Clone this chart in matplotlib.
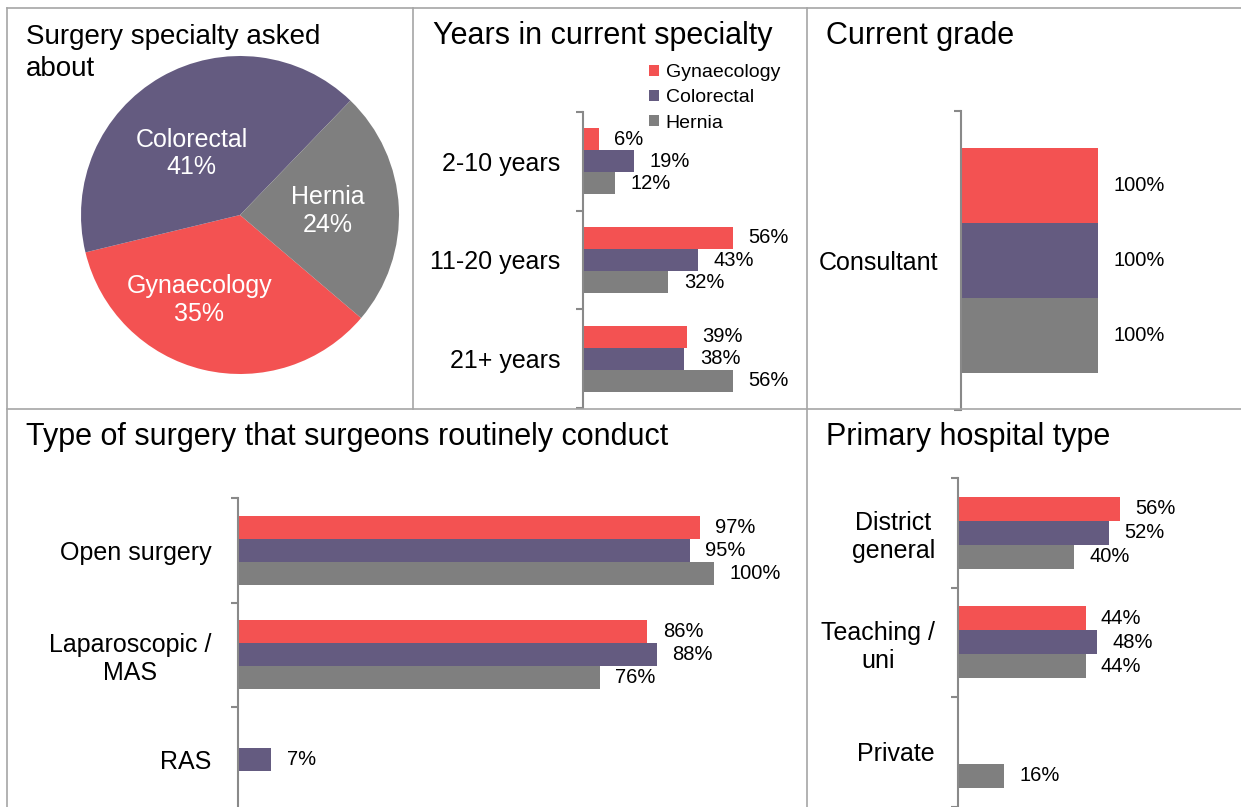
import matplotlib
matplotlib.use("Agg")
import matplotlib.pyplot as plt
from matplotlib.lines import Line2D
import numpy as np

plt.rcParams['font.family'] = ['Liberation Sans', 'DejaVu Sans']

W, H = 1241, 807

series = ["Gynaecology", "Colorectal", "Hernia"]
colors = ["#F35252", "#645B80", "#7F7F7F"]

# pie: share of each specialty
pie_share = [35, 41, 24]

years_cats = ["2-10 years", "11-20 years", "21+ years"]
years_gyn = [6, 56, 39]
years_col = [19, 43, 38]
years_her = [12, 32, 56]

grade_cats = ["Consultant"]
grade_gyn = [100]
grade_col = [100]
grade_her = [100]

surgery_cats = ["Open surgery", "Laparoscopic /\nMAS", "RAS"]
surgery_gyn = [97, 86, 0]
surgery_col = [95, 88, 7]
surgery_her = [100, 76, 0]

hosp_cats = ["District\ngeneral", "Teaching /\nuni", "Private"]
hosp_gyn = [56, 44, 0]
hosp_col = [52, 48, 0]
hosp_her = [40, 44, 16]

fig = plt.figure(figsize=(W / 100, H / 100), dpi=100)


def box(x0, y0, x1, y1):
    # pixel box (top-left origin) -> figure fraction rect
    return [x0 / W, 1 - y1 / H, (x1 - x0) / W, (y1 - y0) / H]


def px(x, y):
    return x / W, 1 - y / H


def grouped(x0, y0, y1, px_per_unit, xmax, cats, vals, bar_h, pad):
    ax = fig.add_axes(box(x0, y0, x0 + px_per_unit * xmax, y1))
    ax.patch.set_alpha(0)
    y = np.arange(len(cats))
    offs = [-bar_h, 0, bar_h]
    for v, c, o, name in zip(vals, colors, offs, series):
        b = ax.barh(y + o, np.array(v) / 100, height=bar_h, color=c,
                    linewidth=0, label=name)
        ax.bar_label(b, labels=[f"{x}%" if x else "" for x in v],
                     padding=11, fontsize=14.5, annotation_clip=False)
    ax.set_ylim(len(cats) - 0.5, -0.5)
    ax.set_xlim(0, xmax)
    ax.set_yticks(y, cats, fontsize=18, multialignment='center')
    ax.set_yticks(np.arange(len(cats) + 1) - 0.5, minor=True)
    ax.tick_params(axis='y', which='major', length=0, pad=pad)
    ax.tick_params(axis='y', which='minor', length=5, width=1.5,
                   color='#898989', direction='out')
    ax.set_xticks([])
    for s in ['top', 'right', 'bottom']:
        ax.spines[s].set_visible(False)
    ax.spines['left'].set_color('#898989')
    ax.spines['left'].set_linewidth(1.5)
    return ax


# panel borders
line_kw = dict(color='#A6A6A6', linewidth=1.2, transform=fig.transFigure)
for xs, ys in [((7, W), (8, 8)), ((7, W), (409, 409)), ((7, 7), (8, H)),
               ((413, 413), (8, 409)), ((807, 807), (8, H))]:
    fig.add_artist(Line2D([x / W for x in xs], [1 - y / H for y in ys], **line_kw))

# pie
cx, cy, r = 240, 215, 159
axp = fig.add_axes(box(cx - r, cy - r, cx + r, cy + r))
wedges, texts = axp.pie(pie_share, colors=colors, startangle=-40.4, counterclock=False,
                        labels=[f"{n}\n{v}%" for n, v in zip(series, pie_share)],
                        labeldistance=0.55,
                        textprops=dict(color='white', fontsize=18),
                        wedgeprops=dict(linewidth=0))
for t in texts:
    t.set_ha('center')
    t.set_va('center')
    t.set_multialignment('center')
# nudge labels a little the way the original sits them
texts[0].set_position((texts[0].get_position()[0] - 0.13, texts[0].get_position()[1]))
texts[1].set_position((texts[1].get_position()[0] - 0.03, texts[1].get_position()[1] - 0.09))
axp.set_xlim(-1, 1)
axp.set_ylim(-1, 1)
# last line baseline
fig.text(*px(26, 76), "Surgery specialty asked\nabout", fontsize=20, va='baseline',
         linespacing=1.32)

# years in current specialty
axy = grouped(583, 112, 408, 267, 0.6, years_cats,
              [years_gyn, years_col, years_her], 0.224, 16.5)
axy.legend(loc='upper left', bbox_to_anchor=px(649, 64), bbox_transform=fig.transFigure,
           frameon=False, fontsize=14, handlelength=0.5, handleheight=0.5,
           handletextpad=0.35, labelspacing=0.43, borderpad=0, borderaxespad=0)
fig.text(*px(433, 44), "Years in current specialty", fontsize=22, va='baseline')

# current grade
grouped(961, 111, 410, 137, 1.1, grade_cats,
        [grade_gyn, grade_col, grade_her], 0.251, 16.5)
fig.text(*px(826, 44), "Current grade", fontsize=22, va='baseline')

# type of surgery
grouped(238, 498, 811.5, 476, 1.05, surgery_cats,
        [surgery_gyn, surgery_col, surgery_her], 0.22, 19)
fig.text(*px(26, 445), "Type of surgery that surgeons routinely conduct", fontsize=22, va='baseline')

# primary hospital type
grouped(958, 478, 806.5, 290, 0.6, hosp_cats,
        [hosp_gyn, hosp_col, hosp_her], 0.219, 16.5)
fig.text(*px(826, 445), "Primary hospital type", fontsize=22, va='baseline')

fig.savefig("out.png", dpi=100)
